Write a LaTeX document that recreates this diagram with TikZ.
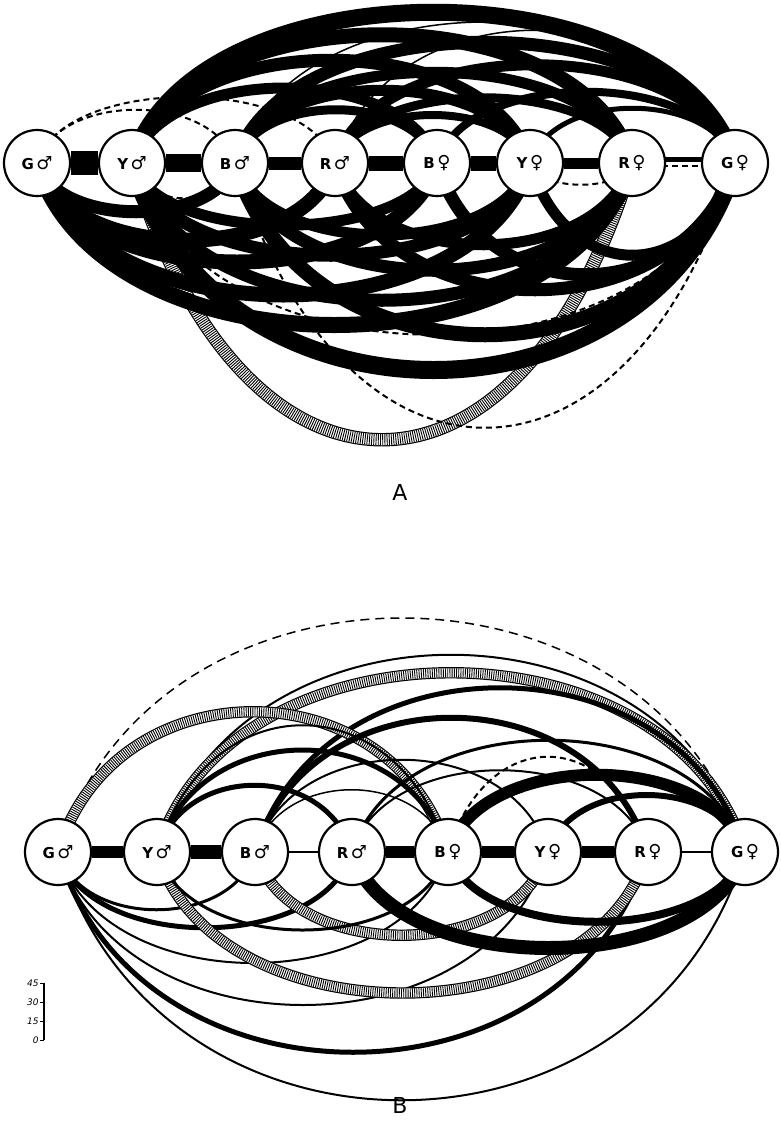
\documentclass[tikz,border=0pt]{standalone}
\usepackage{fontspec}
\setmainfont{DejaVu Sans}
\newfontfamily\symf{DejaVu Sans}
\usetikzlibrary{backgrounds}
\newcommand\uarc[4][]{\draw[#1] (#2.center) .. controls +({0.3*#4},{-#4}) and +({-0.3*#4},{-#4}) .. (#3.center);}
\newcommand\darc[4][]{\draw[#1] (#2.center) .. controls +({0.3*#4},{#4}) and +({-0.3*#4},{#4}) .. (#3.center);}
\newcommand\mal{{\symf\fontsize{18}{18}\selectfont\char"2642}}
\newcommand\fem{{\symf\fontsize{18}{18}\selectfont\char"2640}}
\tikzset{
  sexnode/.style={circle, draw, line width=2.2pt, fill=white, minimum size=66pt, inner sep=0pt, font=\bfseries\fontsize{15}{15}\selectfont},
  hatch/.style={draw=white, line width=#1, preaction={draw=black, line width=#1+2.4pt}, postaction={draw=black, line width=#1, dash pattern=on 0.9pt off 1.3pt}},
  dsh/.style={line width=2pt, dash pattern=on 6pt off 4pt},
  ldsh/.style={line width=1.5pt, dash pattern=on 9pt off 6pt},
  panel/.style={font=\fontsize{22}{22}\selectfont},
  scl/.style={font=\itshape\fontsize{9}{9}\selectfont, anchor=east, inner sep=1pt}
}
\begin{document}
\begin{tikzpicture}[x=1pt,y=-1pt,line cap=butt]
\useasboundingbox (0,0) rectangle (780,1136);
% ---------- panel A nodes
\node[sexnode] (GmA) at (37,163) {G\,\mal};
\node[sexnode] (YmA) at (132,163) {Y\,\mal};
\node[sexnode] (BmA) at (235,163) {B\,\mal};
\node[sexnode] (RmA) at (335,163) {R\,\mal};
\node[sexnode] (BfA) at (437,163) {B\,\fem};
\node[sexnode] (YfA) at (530,163) {Y\,\fem};
\node[sexnode] (RfA) at (632,163) {R\,\fem};
\node[sexnode] (GfA) at (735,163) {G\,\fem};
% ---------- panel B nodes
\node[sexnode] (GmB) at (58,852) {G\,\mal};
\node[sexnode] (YmB) at (157,852) {Y\,\mal};
\node[sexnode] (BmB) at (255,852) {B\,\mal};
\node[sexnode] (RmB) at (352,852) {R\,\mal};
\node[sexnode] (BfB) at (448,852) {B\,\fem};
\node[sexnode] (YfB) at (548,852) {Y\,\fem};
\node[sexnode] (RfB) at (648,852) {R\,\fem};
\node[sexnode] (GfB) at (745,852) {G\,\fem};
\node[panel] (labA) at (400,492) {A};
\node[panel] (labB) at (400,1105) {B};
% scale
\coordinate (s45) at (44,983);
\coordinate (s30) at (44,1002);
\coordinate (s15) at (44,1021);
\coordinate (s0) at (44,1040);
\draw[line width=1.6pt] (s45) -- (s0);
\foreach \c/\t in {s45/45,s30/30,s15/15,s0/0}{
  \draw[line width=1pt] (\c) -- ++(-4,0) node[scl] {\t};
}
\begin{scope}[on background layer]
% ===== panel A
\darc[hatch=11pt]{YmA}{RfA}{369}
\uarc[line width=17pt]{YmA}{GfA}{201}
\uarc[line width=15pt]{YmA}{RfA}{171}
\uarc[line width=13pt]{BmA}{GfA}{161}
\uarc[line width=13pt]{YmA}{YfA}{137}
\uarc[line width=11pt]{BmA}{RfA}{121}
\uarc[line width=11pt]{RmA}{GfA}{131}
\uarc[line width=11pt]{BmA}{YfA}{97}
\uarc[line width=9pt]{RmA}{RfA}{87}
\uarc[line width=11pt]{YmA}{BfA}{100}
\uarc[line width=9pt]{BmA}{BfA}{71}
\uarc[line width=8pt]{RmA}{YfA}{64}
\uarc[line width=8pt]{BfA}{GfA}{95}
\uarc[line width=5pt]{YfA}{GfA}{73}
\uarc[line width=1.5pt]{BmA}{GfA}{188}
\uarc[line width=1.5pt]{RmA}{GfA}{177}
\uarc[dsh]{GmA}{RmA}{88}
\uarc[dsh]{GmA}{BmA}{71}
\darc[line width=18pt]{YmA}{GfA}{276}
\darc[line width=15pt]{BmA}{GfA}{229}
\darc[line width=16pt]{GmA}{RfA}{216}
\darc[line width=15pt]{GmA}{YfA}{176}
\darc[line width=15pt]{GmA}{BfA}{132}
\darc[line width=13pt]{YmA}{RfA}{183}
\darc[line width=13pt]{BmA}{RfA}{143}
\darc[line width=13pt]{YmA}{YfA}{123}
\darc[line width=15pt]{GmA}{RmA}{103}
\darc[line width=13pt]{RmA}{GfA}{169}
\darc[line width=11pt]{YfA}{GfA}{123}
\darc[line width=13pt]{BfA}{GfA}{149}
\darc[line width=11pt]{BmA}{YfA}{96}
\darc[line width=11pt]{YmA}{BfA}{83}
\darc[line width=11pt]{RmA}{RfA}{109}
\darc[line width=13pt]{GmA}{BmA}{65}
\darc[dsh]{BmA}{GfA}{353}
\darc[dsh]{YmA}{GfA}{229}
\darc[dsh]{YmA}{BmA}{47}
\darc[dsh]{YfA}{RfA}{29}
\draw[line width=24pt] (GmA) -- (YmA);
\draw[line width=18pt] (YmA) -- (BmA);
\draw[line width=13pt] (BmA) -- (RmA);
\draw[line width=15pt] (RmA) -- (BfA);
\draw[line width=15pt] (BfA) -- (YfA);
\draw[line width=11pt] (YfA) -- (RfA);
\draw[line width=5pt] ([yshift=4pt]RfA.center) -- ([yshift=4pt]GfA.center);
\draw[dsh] ([yshift=-3pt]RfA.center) -- ([yshift=-3pt]GfA.center);
% ===== panel B
\uarc[ldsh]{GmB}{GfB}{312}
\uarc[line width=2pt]{YmB}{GfB}{263}
\uarc[hatch=9pt]{YmB}{GfB}{239}
\uarc[line width=5pt]{BmB}{GfB}{219}
\uarc[hatch=9pt]{GmB}{BfB}{187}
\uarc[line width=2pt]{YmB}{BfB}{169}
\uarc[line width=6pt]{BmB}{RfB}{179}
\uarc[dsh]{BfB}{RfB}{127}
\uarc[line width=12pt]{BfB}{GfB}{103}
\uarc[line width=5pt]{YmB}{BfB}{136}
\uarc[line width=5pt]{YmB}{RmB}{89}
\uarc[line width=2pt]{BmB}{YfB}{123}
\uarc[line width=1.5pt]{BmB}{BfB}{83}
\uarc[line width=6pt]{YfB}{GfB}{76}
\uarc[line width=3pt]{RmB}{GfB}{149}
\uarc[line width=2pt]{RmB}{RfB}{109}
\darc[line width=2pt]{GmB}{GfB}{331}
\darc[line width=5pt]{GmB}{RfB}{267}
\darc[line width=2pt]{GmB}{YfB}{204}
\darc[line width=2pt]{GmB}{BfB}{148}
\darc[line width=5pt]{GmB}{RmB}{101}
\darc[line width=3pt]{GmB}{BmB}{77}
\darc[hatch=9pt]{YmB}{RfB}{188}
\darc[hatch=9pt]{BmB}{YfB}{111}
\darc[line width=14pt]{RmB}{GfB}{128}
\darc[line width=8pt]{BfB}{GfB}{93}
\darc[line width=3pt]{YmB}{BfB}{104}
\draw[line width=12pt] (GmB) -- (YmB);
\draw[line width=14pt] (YmB) -- (BmB);
\draw[line width=2pt] (BmB) -- (RmB);
\draw[line width=12pt] (RmB) -- (BfB);
\draw[line width=12pt] (BfB) -- (YfB);
\draw[line width=12pt] (YfB) -- (RfB);
\draw[line width=2pt] (RfB) -- (GfB);
\end{scope}
\end{tikzpicture}
\end{document}
